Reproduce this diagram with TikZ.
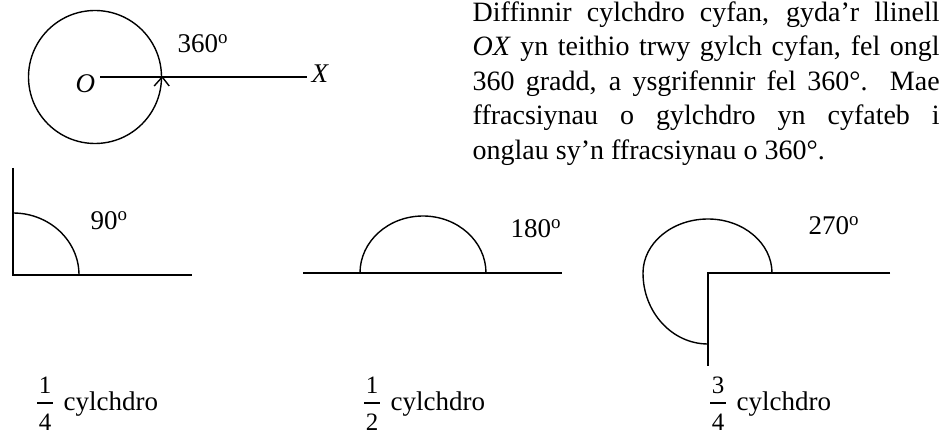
\documentclass[tikz,border=0pt]{standalone}
\usepackage{fontspec}
\setmainfont{Liberation Serif}
\begin{document}
\begin{tikzpicture}[x=1pt,y=-1pt,line width=1.4pt,
  body/.style={font=\fontsize{28}{34}\selectfont,anchor=base west,inner sep=0pt},
  lbl/.style={font=\fontsize{27}{30}\selectfont,anchor=base west,inner sep=0pt},
  num/.style={font=\fontsize{25}{28}\selectfont,anchor=base,inner sep=0pt},
  fracbar/.style={line width=1.2pt}]
\useasboundingbox (0,0) rectangle (939,435);

% body text
\node[body] (t1) at (472,21.5) {\makebox[467pt][s]{Diffinnir cylchdro cyfan, gyda’r llinell}};
\node[body] (t2) at (472,56) {\makebox[467pt][s]{\textit{OX} yn teithio trwy gylch cyfan, fel ongl}};
\node[body] (t3) at (472,90.5) {\makebox[467pt][s]{360 gradd, a ysgrifennir fel 360°.\ \ Mae}};
\node[body] (t4) at (472,125) {\makebox[467pt][s]{ffracsiynau o gylchdro yn cyfateb i}};
\node[body] (t5) at (472,159.5) {onglau sy’n ffracsiynau o 360°.};

% full turn
\node[draw,circle,minimum size=133pt,inner sep=0pt] (circ) at (95,77) {};
\node[lbl] (O) at (75,93) {\textit{O}};
\node[lbl] (X) at (311,83) {\textit{X}};
\coordinate (ls) at (100,77);
\coordinate (le) at (307,77);
\draw (ls) -- (le);
\draw ([shift={(-8,9)}]circ.east) -- (circ.east) -- ([shift={(7,9)}]circ.east);
\node[lbl] (l360) at (177,53) {360\textsuperscript{o}};

% quarter turn
\coordinate (q0) at (13,275);
\draw (13,168) -- (q0) -- (192,275);
\draw (13,213) arc[start angle=270,end angle=360,x radius=66,y radius=62];
\node[lbl] (l90) at (90,230) {90\textsuperscript{o}};

% half turn
\coordinate (h0) at (423,273);
\draw (303,273) -- (562,273);
\draw (360,273) arc[start angle=180,end angle=360,x radius=63,y radius=57];
\node[lbl] (l180) at (510,238) {180\textsuperscript{o}};

% three-quarter turn
\coordinate (c0) at (708,273);
\draw (890,273) -- (c0) -- (708,366);
\draw (772,273) arc[start angle=0,end angle=-90,x radius=64,y radius=54]
                arc[start angle=270,end angle=180,x radius=65,y radius=54]
                arc[start angle=180,end angle=90,x radius=65,y radius=71];
\node[lbl] (l270) at (808,235) {270\textsuperscript{o}};

% fractions
\foreach \fx/\n/\d/\nm in {45/1/4/a, 372/1/2/b, 718/3/4/c}{
  \node[num] (n\nm) at (\fx,393) {\n};
  \node[num] (d\nm) at (\fx,430) {\d};
  \draw[fracbar] ([xshift=-8pt,yshift=-10pt]n\nm.base) -- ([xshift=8pt,yshift=-10pt]n\nm.base);
  \node[lbl] (w\nm) at (\fx+18,410) {cylchdro};
}
\end{tikzpicture}
\end{document}
